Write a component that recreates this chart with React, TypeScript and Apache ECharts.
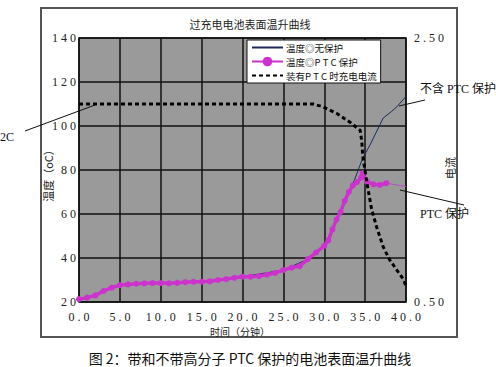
import React, { useEffect, useRef } from "react";
import * as echarts from "echarts";

// 温度◎P T C 保护 (minutes, °C)
const ptcTime = [0, 1, 2, 3, 4, 5, 6, 7, 8, 9, 10, 11, 12, 13, 14, 15, 16, 17, 18, 19, 20, 21, 22, 23, 24, 25, 26, 27, 28, 29, 30, 30.5, 31, 31.5, 32, 32.5, 33, 33.5, 34, 34.5, 34.7, 35.2, 36, 36.8, 37.6];
const ptcTemp = [21.3, 22, 23, 25, 26.5, 27.7, 28, 28.3, 28.5, 28.6, 28.6, 28.5, 28.7, 29, 29.2, 29.2, 29.4, 30, 30.4, 31, 31.5, 31.5, 31.8, 32.4, 33.2, 34.5, 35.6, 36.3, 39.5, 42.5, 45.5, 48, 53, 57.5, 61, 66, 70, 73, 74.5, 76.5, 78.5, 74.7, 73.5, 73.2, 74];
const ptcTailTime = [37.6, 40];
const ptcTailTemp = [74, 72.5];

// 温度◎无保护
const noTime = [0, 2, 5, 10, 15, 20, 25, 28, 30, 31, 32, 33, 33.5, 34.7, 35.6, 36.8, 37.2, 38.2, 38.9, 40];
const noTemp = [21.3, 23, 27.7, 28.6, 29.2, 31.5, 34.5, 39.5, 45.5, 53, 61, 69, 73.5, 85.4, 91.4, 100.5, 103.6, 106.5, 108.8, 113.5];

// 装有P T C 时充电电流 (A, right axis)
const curTime = [0, 28.6, 29.8, 31.5, 33.2, 34.4, 34.6, 34.7, 35.2, 35.8, 36.4, 37.2, 38, 38.9, 39.7, 40];
const curValue = [2.0, 2.0, 1.98, 1.93, 1.86, 1.8, 1.71, 1.61, 1.41, 1.2, 1.07, 0.92, 0.82, 0.74, 0.67, 0.62];

const xTicks = { min: 0, max: 40, interval: 5 };
const leftTicks = { min: 20, max: 140, interval: 20 };
const rightTicks = { min: 0.5, max: 2.5, interval: 0.5 };

const zip = (a: number[], b: number[]) => a.map((v, i) => [v, b[i]]);
const spaced = (s: string) => s.split("").join(" ");

const SERIF = "'Liberation Serif', 'Noto Sans CJK SC', serif";
const CJK = "'Noto Sans CJK SC', 'Liberation Serif', sans-serif";

export default function App() {
  const ref = useRef<HTMLDivElement>(null);
  useEffect(() => {
    if (!ref.current) return;
    const chart = echarts.init(ref.current, undefined, { renderer: "svg" });
    chart.setOption({
      animation: false,
      backgroundColor: "#ffffff",
      grid: {
        left: 79,
        top: 38,
        width: 327,
        height: 264,
        show: true,
        backgroundColor: "#9a9a9a",
        borderColor: "#111",
        borderWidth: 1.5,
      },
      legend: {
        orient: "vertical",
        left: 247,
        top: 40,
        padding: [2, 4, 2, 4],
        itemGap: 3,
        itemWidth: 31,
        itemHeight: 12,
        backgroundColor: "#ffffff",
        borderColor: "#111",
        borderWidth: 1,
        borderRadius: 0,
        textStyle: { fontFamily: CJK, fontSize: 9.5, lineHeight: 11, color: "#111", padding: [0, 0, 0, -2] },
        data: [
          { name: "温度◎无保护", itemStyle: { opacity: 0 } },
          { name: "温度◎P T C 保护" },
          { name: "装有P T C 时充电电流", itemStyle: { opacity: 0 } },
        ],
      },
      xAxis: {
        type: "value",
        ...xTicks,
        axisLine: { show: false },
        axisTick: { show: false },
        splitLine: { show: true, lineStyle: { color: "#111", width: 1.5 } },
        axisLabel: {
          margin: 9,
          fontFamily: SERIF,
          fontSize: 12,
          lineHeight: 12,
          color: "#222",
          formatter: (v: number) => spaced(v.toFixed(1)),
        },
      },
      yAxis: [
        {
          type: "value",
          ...leftTicks,
          axisLine: { show: false },
          axisTick: { show: false },
          splitLine: { show: true, lineStyle: { color: "#111", width: 1.5 } },
          axisLabel: {
            margin: 3,
            fontFamily: SERIF,
            fontSize: 12,
            color: "#222",
            formatter: (v: number) => spaced(String(v)),
          },
        },
        {
          type: "value",
          ...rightTicks,
          position: "right",
          axisLine: { show: false },
          axisTick: { show: false },
          splitLine: { show: false },
          axisLabel: {
            margin: 8,
            fontFamily: SERIF,
            fontSize: 12,
            color: "#222",
            formatter: (v: number) =>
              Math.abs(v - 0.5) < 1e-6 || Math.abs(v - 2.5) < 1e-6 ? spaced(v.toFixed(2)) : "",
          },
        },
      ],
      series: [
        {
          name: "温度◎无保护",
          type: "line",
          data: zip(noTime, noTemp),
          showSymbol: false,
          symbol: "none",
          color: "#1f2a5c",
          lineStyle: { color: "#1f2a5c", width: 1 },
          z: 2,
        },
        {
          name: "温度◎P T C 保护",
          type: "line",
          data: zip(ptcTime, ptcTemp),
          symbol: "circle",
          symbolSize: 6,
          showSymbol: true,
          color: "#cc33cc",
          itemStyle: { color: "#cc33cc" },
          lineStyle: { color: "#cc33cc", width: 3.5 },
          z: 3,
        },
        {
          name: "ptc-tail",
          type: "line",
          data: zip(ptcTailTime, ptcTailTemp),
          showSymbol: false,
          symbol: "none",
          lineStyle: { color: "#b050c0", width: 1 },
          z: 3,
        },
        {
          name: "装有P T C 时充电电流",
          type: "line",
          yAxisIndex: 1,
          data: zip(curTime, curValue),
          showSymbol: false,
          symbol: "none",
          color: "#000",
          lineStyle: { color: "#000", width: 3, type: [4, 3] },
          z: 4,
        },
      ],
      graphic: [
        {
          type: "rect",
          shape: { x: 41, y: 8, width: 416, height: 329 },
          style: { fill: "none", stroke: "#555", lineWidth: 2 },
          z: -10,
          silent: true,
        },
        {
          type: "text",
          x: 250,
          y: 24,
          style: { text: "过充电电池表面温升曲线", fontFamily: CJK, fontSize: 11, fill: "#222", align: "center", verticalAlign: "middle" },
        },
        {
          type: "text",
          x: 48,
          y: 173,
          rotation: Math.PI / 2,
          style: { text: "温度（oC）", fontFamily: CJK, fontSize: 11, fill: "#222", align: "center", verticalAlign: "middle" },
        },
        {
          type: "text",
          x: 450,
          y: 168,
          rotation: Math.PI / 2,
          style: { text: "电流", fontFamily: CJK, fontSize: 11, fill: "#222", align: "center", verticalAlign: "middle" },
        },
        {
          type: "text",
          x: 240,
          y: 331,
          style: { text: "时间（分钟）", fontFamily: CJK, fontSize: 10, lineHeight: 10, fill: "#222", align: "center", verticalAlign: "middle" },
        },
        {
          type: "text",
          x: 0,
          y: 137,
          style: { text: "2C", fontFamily: SERIF, fontSize: 12, fill: "#111", align: "left", verticalAlign: "middle" },
        },
        {
          type: "line",
          shape: { x1: 25, y1: 131, x2: 95, y2: 105 },
          style: { stroke: "#111", lineWidth: 1 },
        },
        {
          type: "text",
          x: 420,
          y: 89,
          style: { text: "不含 PTC 保护", fontFamily: SERIF, fontSize: 12, fill: "#111", align: "left", verticalAlign: "middle" },
        },
        {
          type: "line",
          shape: { x1: 399, y1: 106, x2: 425, y2: 100 },
          style: { stroke: "#111", lineWidth: 1 },
        },
        {
          type: "text",
          x: 420,
          y: 214,
          style: { text: "PTC 保护", fontFamily: SERIF, fontSize: 12, fill: "#111", align: "left", verticalAlign: "middle" },
        },
        {
          type: "line",
          shape: { x1: 400, y1: 190, x2: 464, y2: 205 },
          style: { stroke: "#111", lineWidth: 1 },
        },
        {
          type: "text",
          x: 250,
          y: 358,
          style: { text: "图 2：带和不带高分子 PTC 保护的电池表面温升曲线", fontFamily: CJK, fontSize: 14, fill: "#111", align: "center", verticalAlign: "middle" },
        },
      ],
    });
    return () => chart.dispose();
  }, []);
  return <div ref={ref} style={{ position: "fixed", left: 0, top: 0, width: 496, height: 367 }} />;
}
